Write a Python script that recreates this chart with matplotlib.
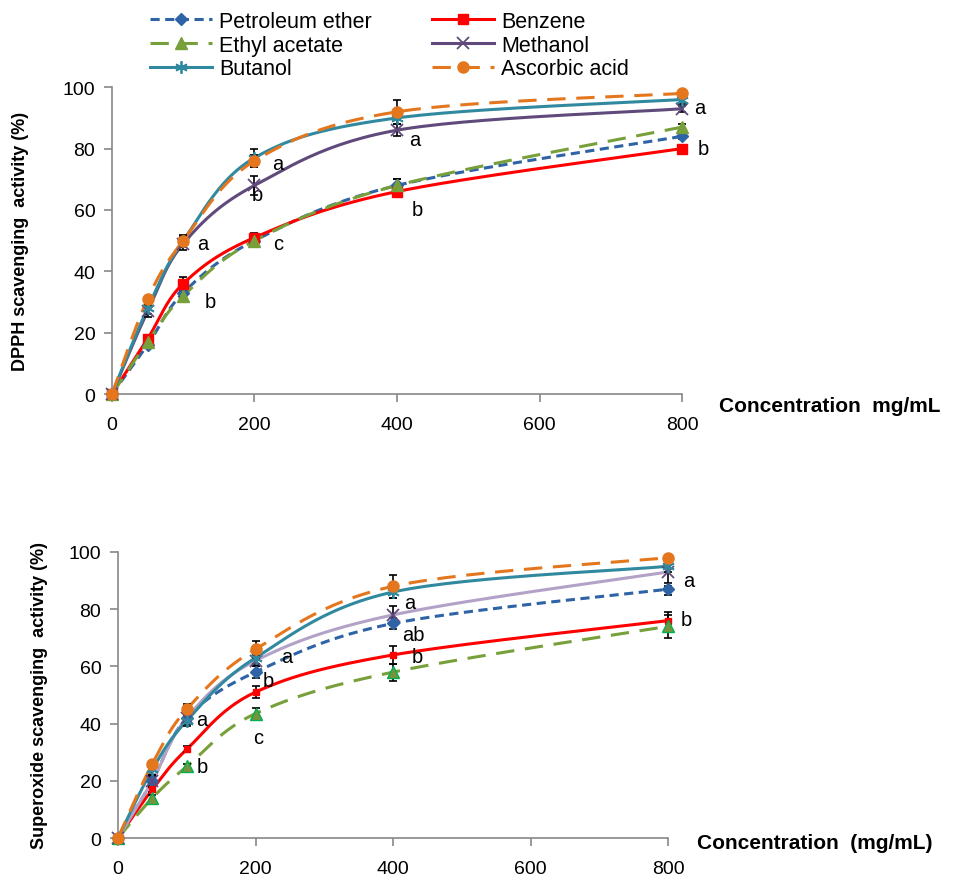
import numpy as np
import matplotlib
matplotlib.use('Agg')
import matplotlib.pyplot as plt
from matplotlib.lines import Line2D

plt.rcParams['font.family'] = ['Liberation Sans', 'DejaVu Sans']

conc = [0, 50, 100, 200, 400, 800]
names = ['Petroleum ether', 'Benzene', 'Ethyl acetate', 'Methanol', 'Butanol', 'Ascorbic acid']

# DPPH scavenging activity (%)
dpph_pet = [0, 16, 33, 50, 68, 84]
dpph_benz = [0, 18, 36, 51, 66, 80]
dpph_ethyl = [0, 17, 32, 50, 68, 87]
dpph_meth = [0, 27, 49, 68, 86, 93]
dpph_but = [0, 28, 50, 77, 90, 96]
dpph_asc = [0, 31, 50, 76, 92, 98]
dpph_err = [[0, 1, 1.5, 1.5, 2, 1], [0, 1, 2, 1.5, 1.5, 1], [0, 1, 1.5, 1.5, 2, 1],
            [0, 2, 2, 3, 2, 1], [0, 2, 2, 3, 2, 1.5], [0, 1, 1.5, 2, 4, 1]]

# Superoxide scavenging activity (%)
sup_pet = [0, 20, 42, 58, 75, 87]
sup_benz = [0, 17, 31, 51, 64, 76]
sup_ethyl = [0, 14, 25, 43.5, 58, 74]
sup_meth = [0, 20, 42, 62, 78, 93]
sup_but = [0, 24, 41, 63, 86, 95]
sup_asc = [0, 26, 45, 66, 88, 98]
sup_err = [[0, 1.5, 1.5, 2, 2, 2], [0, 1, 1, 2, 3, 3], [0, 1, 1, 2, 3, 4],
           [0, 2, 2, 2, 3, 5], [0, 2, 2, 2, 2, 2], [0, 1, 2, 3, 4, 1]]

# significance letters (x, y, text)
dpph_letters = [(233, 75, 'a'), (204, 65, 'b'), (127, 49, 'a'), (233, 49, 'c'), (138, 30, 'b'),
                (425, 83, 'a'), (429, 60, 'b'), (825, 93.5, 'a'), (830, 80, 'b')]
sup_letters = [(246, 63.5, 'a'), (218, 55, 'b'), (122, 41.5, 'a'), (204, 35, 'c'), (122, 25, 'b'),
               (425, 82.5, 'a'), (429, 71, 'ab'), (435, 63.5, 'b'), (830, 90, 'a'), (826, 76.5, 'b')]

asterisk = (6, 2, 0)
top_styles = [
    dict(color='#2e63a6', ls=(0, (3, 1.8)), marker='D', ms=6.5, mfc='#2e63a6', mec='#2e63a6'),
    dict(color='#ff0000', ls='-', marker='s', ms=7, mfc='#ff0000', mec='#ff0000'),
    dict(color='#77a03b', ls=(0, (6, 3.5)), marker='^', ms=8, mfc='#77a03b', mec='#77a03b'),
    dict(color='#604a7b', ls='-', marker='x', ms=8, mfc='#604a7b', mec='#604a7b', mew=1.3),
    dict(color='#31899f', ls='-', marker=asterisk, ms=9, mfc='#31899f', mec='#31899f', mew=1.3),
    dict(color='#e4771e', ls=(0, (6, 3.5)), marker='o', ms=8, mfc='#e4771e', mec='#e4771e'),
]
bot_styles = [dict(s) for s in top_styles]
bot_styles[1].update(ms=5)
bot_styles[2].update(mec='#00b050', mfc='#77933c')
bot_styles[3].update(color='#b3a2c7', mfc='#604a7b', mec='#604a7b')


def smooth(x, y, sx, sy, n=30):
    # Excel-like smoothed line (Bezier through the points), computed in screen-like units
    p = np.column_stack([np.asarray(x, float) * sx, np.asarray(y, float) * sy])
    pts = np.vstack([p[0], p, p[-1]])
    out = []
    t = np.linspace(0, 1, n)[:, None]
    for i in range(1, len(pts) - 2):
        p0, p3 = pts[i], pts[i + 1]
        c1 = p0 + (pts[i + 1] - pts[i - 1]) / 6
        c2 = p3 - (pts[i + 2] - pts[i]) / 6
        seg = (1 - t) ** 3 * p0 + 3 * (1 - t) ** 2 * t * c1 + 3 * (1 - t) * t ** 2 * c2 + t ** 3 * p3
        out.append(seg)
    out = np.vstack(out)
    return out[:, 0] / sx, out[:, 1] / sy


def draw(ax, series, errs, styles, letters, ylabel, xlabel, sx, sy, xlab_pos, ypad):
    handles = []
    for vals, err, st in zip(series, errs, styles):
        xs, ys = smooth(conc, vals, sx, sy)
        ax.plot(xs, ys, color=st['color'], ls=st['ls'], lw=2.2, zorder=2, clip_on=False)
        ax.errorbar(conc, vals, yerr=err, fmt='none', ecolor='black', elinewidth=1.2,
                    capsize=3, capthick=1.2, zorder=3, clip_on=False)
        ax.plot(conc, vals, ls='none', marker=st['marker'], ms=st['ms'], mfc=st['mfc'],
                mec=st['mec'], mew=st.get('mew', 1), zorder=4, clip_on=False)
        handles.append(Line2D([], [], color=st['color'], ls=st['ls'], lw=2.2, marker=st['marker'],
                              ms=st['ms'], mfc=st['mfc'], mec=st['mec'], mew=st.get('mew', 1)))
    for x, y, s in letters:
        ax.text(x, y, s, fontsize=14.5, ha='center', va='center')
    ax.set_xlim(0, 800)
    ax.set_ylim(0, 100)
    ax.set_xticks([0, 200, 400, 600, 800])
    ax.set_yticks([0, 20, 40, 60, 80, 100])
    for sp in ['top', 'right']:
        ax.spines[sp].set_visible(False)
    for sp in ['left', 'bottom']:
        ax.spines[sp].set_color('#888888')
        ax.spines[sp].set_linewidth(1.2)
    ax.tick_params(colors='#888888', labelcolor='black', labelsize=14, length=6, width=1.2)
    ax.tick_params(axis='x', pad=10)
    ax.tick_params(axis='y', pad=6)
    ax.set_ylabel(ylabel, fontsize=13, fontweight='bold', labelpad=ypad)
    ax.text(xlab_pos[0], xlab_pos[1], xlabel, transform=ax.transAxes, fontsize=15,
            fontweight='bold', ha='left', va='center')
    return handles


fig = plt.figure(figsize=(9.65, 8.79), dpi=100)
ax1 = fig.add_axes([112 / 965, 0.5506, 570 / 965, 0.349])
ax2 = fig.add_axes([118 / 965, 0.0455, 550 / 965, 0.3254])

h = draw(ax1, [dpph_pet, dpph_benz, dpph_ethyl, dpph_meth, dpph_but, dpph_asc], dpph_err,
         top_styles, dpph_letters, 'DPPH scavenging  activity (%)', 'Concentration  mg/mL',
         570 / 800, 3.07, (1.065, -0.039), 24)
draw(ax2, [sup_pet, sup_benz, sup_ethyl, sup_meth, sup_but, sup_asc], sup_err,
     bot_styles, sup_letters, 'Superoxide scavenging  activity (%)', 'Concentration  (mg/mL)',
     550 / 800, 2.86, (1.053, -0.014), 15)

order = [0, 2, 4, 1, 3, 5]
fig.legend([h[i] for i in order], [names[i] for i in order], ncol=2, frameon=False,
           loc='upper left', bbox_to_anchor=(150 / 965, 1 - 12 / 879), fontsize=15.5,
           handlelength=2.9, columnspacing=2.8, labelspacing=0.12, handletextpad=0.3,
           borderpad=0, borderaxespad=0)

fig.savefig('out.png', dpi=100)
